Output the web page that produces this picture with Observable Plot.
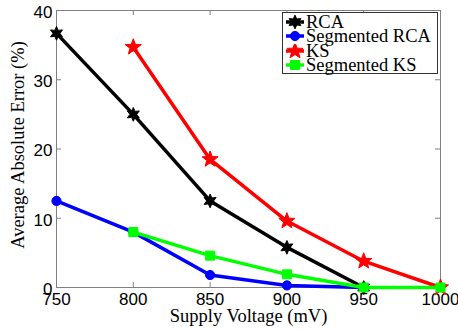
<!DOCTYPE html>
<html>
<head>
<meta charset="utf-8">
<script src="https://cdn.jsdelivr.net/npm/d3@7"></script>
<script src="https://cdn.jsdelivr.net/npm/@observablehq/plot@0.6"></script>
<style>
  html, body { margin: 0; padding: 0; background: #fff; }
  #wrap { position: relative; width: 458px; height: 329px; background: #fff; overflow: hidden; }
  #legend { position: absolute; left: 282px; top: 12px; width: 156px; height: 62px; box-sizing: border-box;
    border: 1px solid #333; background: #fff; font-family: "Liberation Serif", serif; font-size: 18.5px;
    line-height: 14px; padding-top: 2px; }
  #legend .row { display: flex; align-items: center; height: 14.25px; white-space: nowrap; }
  #legend svg { flex: none; margin-left: 1px; }
</style>
</head>
<body>
<div id="wrap"></div>
<script>
// ---- data ----
const voltages = [750, 800, 850, 900, 950, 1000];
const seriesNames = ["RCA", "Segmented RCA", "KS", "Segmented KS"];
const rcaX = [750, 800, 850, 900, 950];
const rcaY = [36.7, 25.0, 12.5, 5.8, 0.0];
const segRcaX = [750, 800, 850, 900, 950];
const segRcaY = [12.5, 8.0, 1.8, 0.3, 0.0];
const ksX = [800, 850, 900, 950, 1000];
const ksY = [34.7, 18.5, 9.6, 3.8, 0.0];
const segKsX = [800, 850, 900, 950, 1000];
const segKsY = [8.0, 4.6, 1.9, 0.0, 0.0];
const yTicks = [0, 10, 20, 30, 40];
const xLabel = "Supply Voltage (mV)";
const yLabel = "Average Absolute Error (%)";

// six-pointed star (hexagram)
const hexagram = {
  draw(ctx, size) {
    const R = Math.sqrt(size / Math.PI) * 1.25;
    const r = R * 0.5;
    for (let i = 0; i < 12; i++) {
      const a = -Math.PI / 2 + i * Math.PI / 6;
      const rr = i % 2 === 0 ? R : r;
      const px = rr * Math.cos(a), py = rr * Math.sin(a);
      if (i === 0) ctx.moveTo(px, py); else ctx.lineTo(px, py);
    }
    ctx.closePath();
  }
};
const pentagram = {
  draw(ctx, size) {
    const R = Math.sqrt(size / Math.PI) * 1.3;
    const r = R * 0.42;
    for (let i = 0; i < 10; i++) {
      const a = -Math.PI / 2 + i * Math.PI / 5;
      const rr = i % 2 === 0 ? R : r;
      const px = rr * Math.cos(a), py = rr * Math.sin(a);
      if (i === 0) ctx.moveTo(px, py); else ctx.lineTo(px, py);
    }
    ctx.closePath();
  }
};
const squareSym = {
  draw(ctx, size) {
    const s = Math.sqrt(size / Math.PI) * 0.9;
    ctx.rect(-s, -s, 2 * s, 2 * s);
  }
};

const series = [
  {name: seriesNames[0], xs: rcaX, ys: rcaY, color: "#000000", symbol: hexagram, r: 5.5},
  {name: seriesNames[1], xs: segRcaX, ys: segRcaY, color: "#0000ff", symbol: "circle", r: 4.6},
  {name: seriesNames[2], xs: ksX, ys: ksY, color: "#ff0000", symbol: pentagram, r: 6.5},
  {name: seriesNames[3], xs: segKsX, ys: segKsY, color: "#00ff00", symbol: squareSym, r: 5}
];

const marks = [];
for (const s of series) {
  const rows = s.xs.map((x, i) => ({x, y: s.ys[i]}));
  marks.push(Plot.line(rows, {x: "x", y: "y", stroke: s.color, strokeWidth: 3.5}));
  marks.push(Plot.dot(rows, {x: "x", y: "y", fill: s.color, stroke: s.color, strokeWidth: 1, symbol: () => s.symbol, r: s.r}));
}

const tickLen = 5;
const plotH = 329 - 10 - 42;
const plotW = 458 - 56 - 18;
const sans = "Liberation Sans, Arial, Helvetica, sans-serif";
const serif = "Liberation Serif, Times New Roman, serif";

const chart = Plot.plot({
  width: 458,
  height: 329,
  marginLeft: 56,
  marginRight: 18,
  marginTop: 10,
  marginBottom: 42,
  style: {background: "#fff", overflow: "visible"},
  x: {domain: [750, 1000], ticks: voltages},
  y: {domain: [0, 40], ticks: yTicks},
  marks: [
    Plot.frame({stroke: "#808080", strokeWidth: 1}),
    // inward ticks, all four sides
    Plot.tickX(voltages, {x: d => d, stroke: "#808080", insetTop: plotH - tickLen}),
    Plot.tickX(voltages, {x: d => d, stroke: "#808080", insetBottom: plotH - tickLen}),
    Plot.tickY(yTicks, {y: d => d, stroke: "#808080", insetRight: plotW - tickLen}),
    Plot.tickY(yTicks, {y: d => d, stroke: "#808080", insetLeft: plotW - tickLen}),
    Plot.axisX(voltages, {tickSize: 0, tickPadding: 5, fontSize: 17, fontFamily: sans, fill: "#000", tickFormat: d => String(d), label: null}),
    Plot.axisY(yTicks, {tickSize: 0, tickPadding: 4, dy: 2, fontSize: 17, fontFamily: sans, fill: "#000", tickFormat: d => String(d), label: null}),
    ...marks,
    Plot.text([xLabel], {text: d => d, frameAnchor: "bottom", dy: 29, fontSize: 18.5, fontFamily: serif, fill: "#000", lineAnchor: "middle", textAnchor: "middle"}),
    Plot.text([yLabel], {text: d => d, frameAnchor: "left", dx: -38, dy: -4, rotate: -90, fontSize: 18.5, fontFamily: serif, fill: "#000", lineAnchor: "middle", textAnchor: "middle"})
  ]
});

const wrap = document.getElementById("wrap");
wrap.appendChild(chart);

// legend overlay
const legend = document.createElement("div");
legend.id = "legend";
for (const s of series) {
  const row = document.createElement("div");
  row.className = "row";
  const svg = d3.create("svg").attr("width", 22).attr("height", 14);
  svg.append("line").attr("x1", 2).attr("x2", 20).attr("y1", 7).attr("y2", 7)
    .attr("stroke", s.color).attr("stroke-width", 3.5);
  const sym = typeof s.symbol === "string" ? d3.symbolCircle : s.symbol;
  svg.append("path").attr("transform", "translate(11,7)")
    .attr("d", d3.symbol(sym, Math.PI * s.r * s.r)())
    .attr("fill", s.color).attr("stroke", s.color);
  row.appendChild(svg.node());
  const t = document.createElement("span");
  t.textContent = s.name;
  row.appendChild(t);
  legend.appendChild(row);
}
wrap.appendChild(legend);
</script>
</body>
</html>
